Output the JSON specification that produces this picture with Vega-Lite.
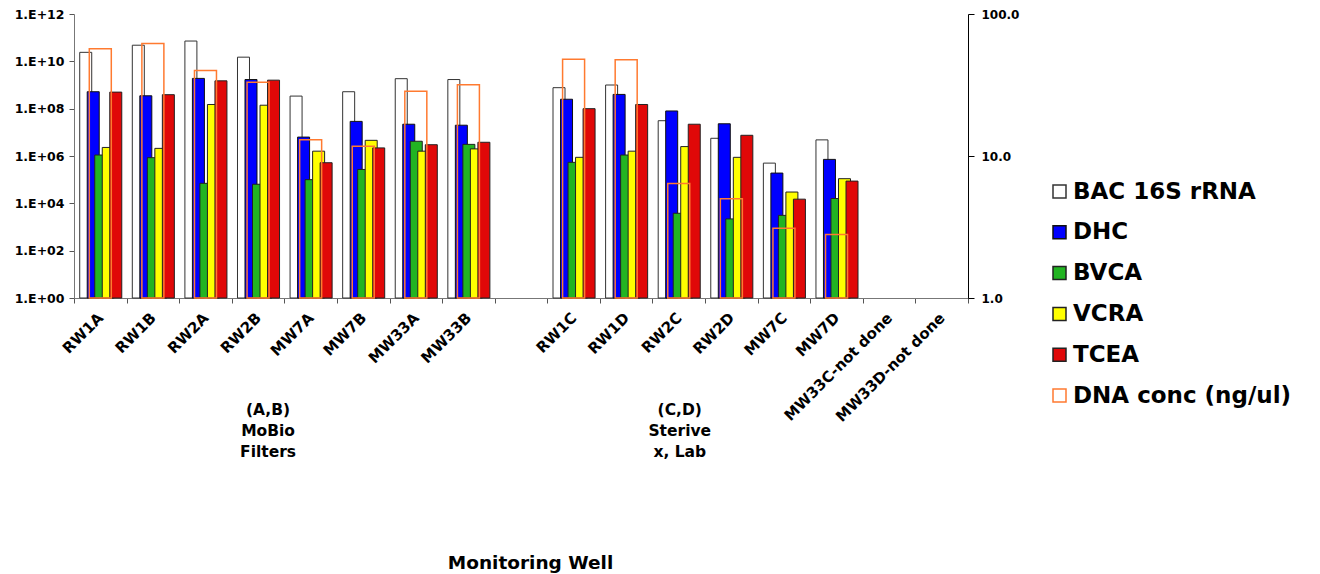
{
  "$schema": "https://vega.github.io/schema/vega-lite/v6.json",
  "width": 894,
  "height": 284,
  "autosize": {"type": "none"},
  "padding": {"left": 74, "top": 14, "right": 352, "bottom": 276},
  "background": "white",
  "config": {
    "view": {"stroke": null},
    "font": "DejaVu Sans",
    "axis": {"labelFont": "DejaVu Sans", "labelFontWeight": "bold", "labelColor": "black", "titleFont": "DejaVu Sans", "titleFontWeight": "bold", "grid": false}
  },
  "datasets": {
    "wells": [
      {"well": "RW1A", "BAC 16S rRNA": 2.4e10, "DHC": 5.2e8, "BVCA": 1.1e6, "VCRA": 2.3e6, "TCEA": 5.0e8, "DNA conc (ng/ul)": 57},
      {"well": "RW1B", "BAC 16S rRNA": 4.8e10, "DHC": 3.5e8, "BVCA": 8.5e5, "VCRA": 2.1e6, "TCEA": 3.9e8, "DNA conc (ng/ul)": 62},
      {"well": "RW2A", "BAC 16S rRNA": 7.2e10, "DHC": 1.9e9, "BVCA": 7.0e4, "VCRA": 1.5e8, "TCEA": 1.5e9, "DNA conc (ng/ul)": 40},
      {"well": "RW2B", "BAC 16S rRNA": 1.5e10, "DHC": 1.7e9, "BVCA": 6.4e4, "VCRA": 1.4e8, "TCEA": 1.6e9, "DNA conc (ng/ul)": 33},
      {"well": "MW7A", "BAC 16S rRNA": 3.4e8, "DHC": 6.3e6, "BVCA": 1.0e5, "VCRA": 1.6e6, "TCEA": 5.2e5, "DNA conc (ng/ul)": 13},
      {"well": "MW7B", "BAC 16S rRNA": 5.2e8, "DHC": 2.9e7, "BVCA": 2.7e5, "VCRA": 4.6e6, "TCEA": 2.2e6, "DNA conc (ng/ul)": 11.7},
      {"well": "MW33A", "BAC 16S rRNA": 1.85e9, "DHC": 2.2e7, "BVCA": 4.2e6, "VCRA": 1.6e6, "TCEA": 3.0e6, "DNA conc (ng/ul)": 28.6},
      {"well": "MW33B", "BAC 16S rRNA": 1.7e9, "DHC": 2.0e7, "BVCA": 3.1e6, "VCRA": 2.0e6, "TCEA": 3.8e6, "DNA conc (ng/ul)": 31.8},
      {"well": "RW1C", "BAC 16S rRNA": 7.7e8, "DHC": 2.5e8, "BVCA": 5.4e5, "VCRA": 8.8e5, "TCEA": 1.0e8, "DNA conc (ng/ul)": 48},
      {"well": "RW1D", "BAC 16S rRNA": 1.0e9, "DHC": 4.0e8, "BVCA": 1.1e6, "VCRA": 1.6e6, "TCEA": 1.5e8, "DNA conc (ng/ul)": 47.7},
      {"well": "RW2C", "BAC 16S rRNA": 3.1e7, "DHC": 8.0e7, "BVCA": 3.8e3, "VCRA": 2.5e6, "TCEA": 2.2e7, "DNA conc (ng/ul)": 6.4},
      {"well": "RW2D", "BAC 16S rRNA": 5.6e6, "DHC": 2.3e7, "BVCA": 2.2e3, "VCRA": 8.8e5, "TCEA": 7.5e6, "DNA conc (ng/ul)": 5.0},
      {"well": "MW7C", "BAC 16S rRNA": 5.0e5, "DHC": 1.9e5, "BVCA": 3.1e3, "VCRA": 3.0e4, "TCEA": 1.5e4, "DNA conc (ng/ul)": 3.1},
      {"well": "MW7D", "BAC 16S rRNA": 4.8e6, "DHC": 7.2e5, "BVCA": 1.6e4, "VCRA": 1.1e5, "TCEA": 8.7e4, "DNA conc (ng/ul)": 2.8}
    ]
  },
  "layer": [
    {
      "data": {"name": "wells"},
      "transform": [{"fold": ["BAC 16S rRNA", "DHC", "BVCA", "VCRA", "TCEA"], "as": ["series", "value"]}],
      "mark": {"type": "bar", "width": 12, "strokeWidth": 1},
      "encoding": {
        "x": {
          "field": "well", "type": "nominal", "sort": null,
          "scale": {"domain": ["RW1A", "RW1B", "RW2A", "RW2B", "MW7A", "MW7B", "MW33A", "MW33B", " ", "RW1C", "RW1D", "RW2C", "RW2D", "MW7C", "MW7D", "MW33C-not done", "MW33D-not done"], "paddingInner": 0, "paddingOuter": 0},
          "axis": {"title": "Monitoring Well", "titleFontSize": 18.5, "titleX": 456, "titleY": 264, "titleBaseline": "middle", "titleAnchor": null, "labelAngle": -45, "labelAlign": "right", "labelBaseline": "middle", "labelFontSize": 15, "labelPadding": 12, "tickBand": "extent", "tickSize": 5, "domainColor": "#777777", "tickColor": "#555555", "labelOverlap": false, "labelBound": false}
        },
        "xOffset": {"field": "series", "type": "nominal", "sort": null, "scale": {"domain": ["BAC 16S rRNA", "DHC", "BVCA", "VCRA", "TCEA"], "paddingInner": 0, "paddingOuter": 1.88, "align": 0.53}},
        "y": {
          "field": "value", "type": "quantitative",
          "scale": {"type": "log", "domain": [1, 1e12], "nice": false},
          "axis": {"orient": "left", "title": null, "values": [1, 100, 10000, 1000000, 100000000, 10000000000, 1000000000000], "labelExpr": "'1.E+' + (round(log(datum.value)/LN10) < 10 ? '0' : '') + round(log(datum.value)/LN10)", "labelFontSize": 12.5, "tickSize": 5, "labelPadding": 5, "domainColor": "#777777", "tickColor": "#555555"}
        },
        "y2": {"datum": 1},
        "fill": {
          "field": "series", "type": "nominal",
          "scale": {"domain": ["BAC 16S rRNA", "DHC", "BVCA", "VCRA", "TCEA", "DNA conc (ng/ul)"], "range": ["#FFFFFF", "#0000FF", "#22B422", "#FFFF00", "#E00808", "#FFFFFF"]},
          "legend": {"title": null, "orient": "none", "legendX": 974, "legendY": 166, "symbolType": "square", "symbolSize": 169, "symbolStrokeWidth": 1.5, "labelFont": "DejaVu Sans", "labelFontWeight": "bold", "labelFontSize": 23, "labelColor": "black", "labelOffset": 2, "rowPadding": 16.8, "padding": 0, "labelLimit": 400}
        },
        "stroke": {
          "field": "series", "type": "nominal",
          "scale": {"domain": ["BAC 16S rRNA", "DHC", "BVCA", "VCRA", "TCEA", "DNA conc (ng/ul)"], "range": ["#333333", "#111111", "#222222", "#222222", "#222222", "#FF7A30"]},
          "legend": {"title": null, "orient": "none", "legendX": 974, "legendY": 166, "symbolType": "square", "symbolSize": 169, "symbolStrokeWidth": 1.5, "labelFont": "DejaVu Sans", "labelFontWeight": "bold", "labelFontSize": 23, "labelColor": "black", "labelOffset": 2, "rowPadding": 16.8, "padding": 0, "labelLimit": 400}
        }
      }
    },
    {
      "data": {"name": "wells"},
      "transform": [{"fold": ["DNA conc (ng/ul)"], "as": ["series", "conc"]}],
      "mark": {"type": "bar", "width": 22, "fill": "transparent", "strokeWidth": 1.5},
      "encoding": {
        "x": {"field": "well", "type": "nominal", "sort": null},
        "y": {
          "field": "conc", "type": "quantitative",
          "scale": {"type": "log", "domain": [1, 100], "nice": false},
          "axis": {"orient": "right", "title": null, "values": [1, 10, 100], "format": ".1f", "labelFontSize": 12, "tickSize": 6, "labelPadding": 7, "domainColor": "black", "tickColor": "black"}
        },
        "y2": {"datum": 1},
        "stroke": {"field": "series", "type": "nominal"}
      }
    },
    {
      "data": {"values": [{"well": "RW2B", "note": "(A,B)\nMoBio\nFilters"}]},
      "mark": {"type": "text", "lineBreak": "\n", "font": "DejaVu Sans", "fontWeight": "bold", "fontSize": 15.5, "lineHeight": 21, "baseline": "top", "align": "center", "dx": 10, "y": 389},
      "encoding": {
        "x": {"field": "well", "type": "nominal", "sort": null},
        "text": {"field": "note"}
      }
    },
    {
      "data": {"values": [{"well": "RW2C", "note": "(C,D)\nSterive\nx, Lab"}]},
      "mark": {"type": "text", "lineBreak": "\n", "font": "DejaVu Sans", "fontWeight": "bold", "fontSize": 15.5, "lineHeight": 21, "baseline": "top", "align": "center", "dx": 1, "y": 389},
      "encoding": {
        "x": {"field": "well", "type": "nominal", "sort": null},
        "text": {"field": "note"}
      }
    }
  ],
  "resolve": {"scale": {"y": "independent"}}
}
